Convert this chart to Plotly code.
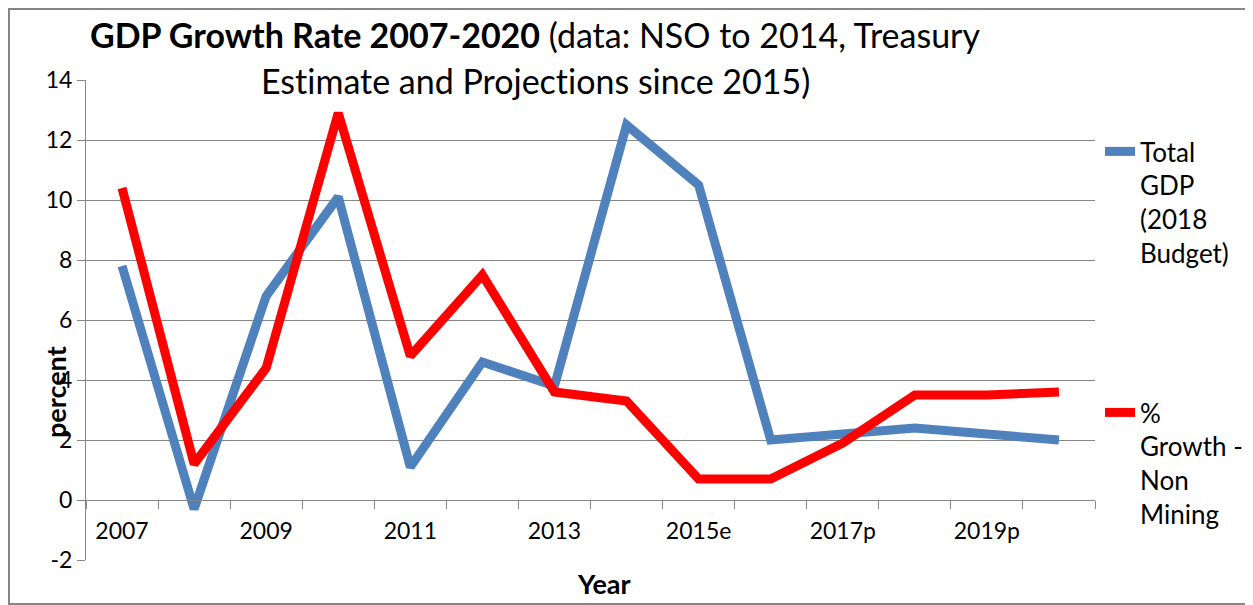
import plotly.graph_objects as go

years = ["2007", "2008", "2009", "2010", "2011", "2012", "2013", "2014",
         "2015e", "2016e", "2017p", "2018p", "2019p", "2020p"]
tick_labels = ["2007", "", "2009", "", "2011", "", "2013", "",
               "2015e", "", "2017p", "", "2019p", ""]
y_ticks = [-2, 0, 2, 4, 6, 8, 10, 12, 14]
y_tick_labels = ["-2", "0", "2", "4", "6", "8", "10", "12", "14"]
total_gdp = [7.8, -0.3, 6.8, 10.1, 1.1, 4.6, 3.8, 12.5, 10.5, 2.0, 2.2, 2.4, 2.2, 2.0]
non_mining = [10.4, 1.2, 4.4, 12.9, 4.8, 7.5, 3.6, 3.3, 0.7, 0.7, 1.9, 3.5, 3.5, 3.6]

FONT = "Lato"
GRID = "#868686"
W, H = 1253, 605
OFF = 8  # page body margin offset in the browser
L, R, T, B = 86 - OFF, 1095 - OFF, 80 - OFF, 560 - OFF
pw, ph = R - L, B - T
ZW = "\u200c"  # zero-width non-joiner to avoid "ti" ligature


def px(x):
    return (x - OFF - L) / pw


def py(y):
    return 1 - (y - OFF - T) / ph


fig = go.Figure()
fig.add_trace(go.Scatter(
    x=years, y=total_gdp, mode="lines", name="Total<br>GDP<br>(2018<br>Budget)",
    line=dict(color="#4F81BD", width=9), legend="legend"))
fig.add_trace(go.Scatter(
    x=years, y=non_mining, mode="lines", name="%<br>Growth -<br>Non<br>Mining",
    line=dict(color="#FF0000", width=9), legend="legend2"))

fig.update_layout(
    width=W, height=H,
    margin=dict(l=L, r=W - R, t=T, b=H - B, autoexpand=False),
    paper_bgcolor="white", plot_bgcolor="white",
    font=dict(family=FONT, size=23, color="black"),
    title=dict(
        text="<b>GDP Growth Rate 2007-2020</b> (data: NSO to 2014, Treasury",
        x=(535 - OFF) / W, xanchor="center", xref="container",
        y=1 - (36 - OFF) / H, yanchor="middle", yref="container",
        font=dict(family=FONT, size=34, color="black")),
    xaxis=dict(
        type="category", range=[-0.5, 13.5],
        tickmode="array", tickvals=years, ticktext=tick_labels,
        tickson="boundaries", ticks="outside", ticklen=8, tickcolor=GRID, tickwidth=1,
        showline=True, linecolor=GRID, linewidth=1, tickangle=0,
        showgrid=False, anchor="free", position=0.125, automargin=False,
        ticklabelstandoff=10,
        tickfont=dict(family=FONT, size=23, color="black")),
    yaxis=dict(
        range=[-2, 14], tickmode="array", tickvals=y_ticks, ticktext=y_tick_labels,
        automargin=False,
        showgrid=True, gridcolor=GRID, gridwidth=1, zeroline=False,
        showline=True, linecolor=GRID, linewidth=1,
        ticks="outside", ticklen=8, tickcolor=GRID,
        tickfont=dict(family=FONT, size=23, color="black")),
    legend=dict(x=px(1100), y=py(128), xanchor="left", yanchor="top",
                valign="top", bgcolor="rgba(0,0,0,0)",
                font=dict(family=FONT, size=26, color="black")),
    legend2=dict(x=px(1100), y=py(389), xanchor="left", yanchor="top",
                 valign="top", bgcolor="rgba(0,0,0,0)",
                 font=dict(family=FONT, size=26, color="black")),
    showlegend=True,
)

fig.add_annotation(text="Es" + "t" + ZW + "imate and Projec" + "t" + ZW + "ions since 2015)",
                   xref="paper", yref="paper",
                   x=px(535), y=py(80), xanchor="center", yanchor="middle",
                   showarrow=False, font=dict(family=FONT, size=34, color="black"))
fig.add_annotation(text="<b>percent</b>", xref="paper", yref="paper",
                   x=px(55), y=py(392), xanchor="center", yanchor="middle",
                   textangle=-90, showarrow=False,
                   font=dict(family=FONT, size=27, color="black"))
fig.add_annotation(text="<b>Year</b>", xref="paper", yref="paper",
                   x=px(604), y=py(583), xanchor="center", yanchor="middle",
                   showarrow=False, font=dict(family=FONT, size=27, color="black"))
fig.add_shape(type="rect", xref="paper", yref="paper",
              x0=px(OFF + 1), x1=px(1262), y0=py(604), y1=py(OFF + 1),
              line=dict(color=GRID, width=2), fillcolor="rgba(0,0,0,0)", layer="below")

fig.write_html("out.html")
